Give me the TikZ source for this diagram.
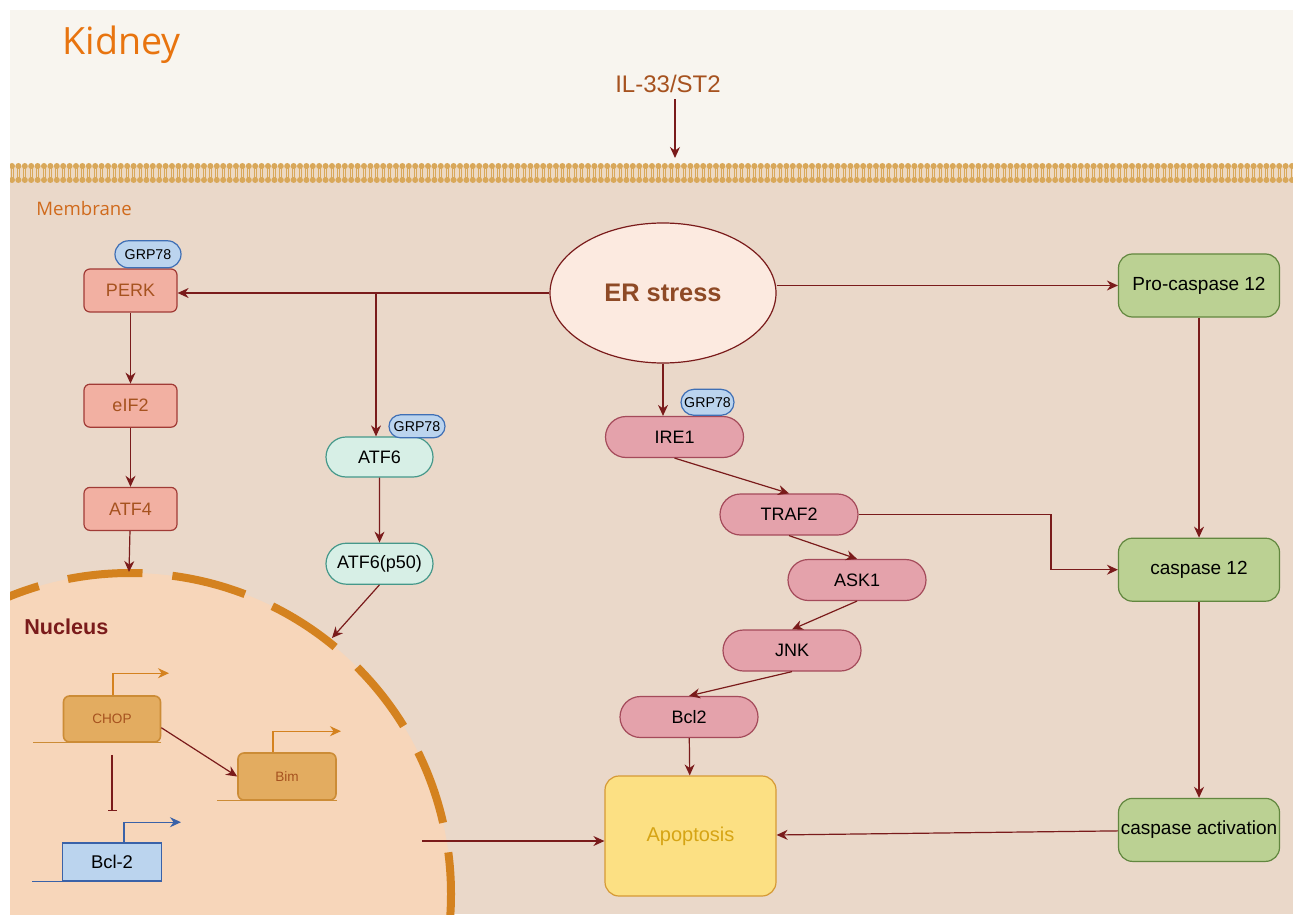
\documentclass[tikz,border=0pt]{standalone}
\usepackage{fontspec}
\setmainfont{Liberation Sans}
\newfontfamily\segoe{Open Sans}
\usetikzlibrary{arrows.meta,positioning,calc,shapes.geometric,shapes.misc}
\definecolor{arrowred}{HTML}{7A1B1B}
\definecolor{creambg}{HTML}{F8F5EF}
\definecolor{tanbg}{HTML}{EAD8C9}
\definecolor{lipid}{HTML}{D9A85A}
\definecolor{memband}{HTML}{EDD9C2}
\definecolor{kidneyor}{HTML}{E8740F}
\definecolor{memor}{HTML}{D06A1C}
\definecolor{brownt}{HTML}{A6521F}
\definecolor{ertext}{HTML}{8E4A26}
\definecolor{erfill}{HTML}{FCEAE0}
\definecolor{nucfill}{HTML}{F7D6BA}
\definecolor{nucline}{HTML}{D4821F}
\definecolor{perkfill}{HTML}{F2B0A2}
\definecolor{perkline}{HTML}{A13B36}
\definecolor{grpfill}{HTML}{BBD4EE}
\definecolor{grpline}{HTML}{3F6FB5}
\definecolor{atffill}{HTML}{D7EFE6}
\definecolor{atfline}{HTML}{45988A}
\definecolor{irefill}{HTML}{E4A2AB}
\definecolor{ireline}{HTML}{A44A5A}
\definecolor{casfill}{HTML}{BBD193}
\definecolor{casline}{HTML}{62873F}
\definecolor{apofill}{HTML}{FCE083}
\definecolor{apoline}{HTML}{D69A35}
\definecolor{apotext}{HTML}{D6A414}
\definecolor{genefill}{HTML}{E3AC60}
\definecolor{geneline}{HTML}{CC8C36}
\definecolor{bclline}{HTML}{3A62A8}

\begin{document}
\begin{tikzpicture}[x=0.5pt,y=-0.5pt,>={Stealth[length=5.5pt,width=5pt]},
  every node/.style={inner sep=0pt},
  link/.style={->,draw=arrowred,line width=0.6pt},
  perkbox/.style={draw=perkline,fill=perkfill,rounded corners=3pt,line width=0.6pt,
    minimum width=46.5pt,minimum height=21.5pt,text=brownt,font=\fontsize{9}{10}\selectfont},
  grp/.style={rounded rectangle,draw=grpline,fill=grpfill,line width=0.6pt,
    minimum width=28pt,minimum height=12.5pt,font=\fontsize{7.1}{8}\selectfont},
  atf/.style={rounded rectangle,draw=atfline,fill=atffill,line width=0.6pt,
    minimum width=53.5pt,minimum height=20pt,font=\fontsize{9}{10}\selectfont},
  ire/.style={rounded rectangle,draw=ireline,fill=irefill,line width=0.6pt,
    minimum width=69pt,minimum height=20.5pt,font=\fontsize{9}{10}\selectfont},
  cas/.style={rounded corners=7pt,draw=casline,fill=casfill,line width=0.6pt,
    minimum width=80.5pt,minimum height=31.5pt,font=\fontsize{9.5}{11}\selectfont},
  gene/.style={draw=geneline,fill=genefill,rounded corners=3pt,line width=0.8pt,
    minimum width=48.5pt,minimum height=23pt,text=brownt,font=\fontsize{6.8}{8}\selectfont},
  genebase/.style={draw=geneline,line width=0.6pt},
  tss/.style={->,draw=nucline,line width=0.6pt}]
\useasboundingbox (0,0) rectangle (1293,914);
\fill[white] (0,0) rectangle (1293,914);
\begin{scope}
\clip (10,10) rectangle (1293,914);
% cell background and nucleus
\fill[creambg] (10,10) rectangle (1293,170);
\fill[tanbg] (10,170) rectangle (1293,914);
\fill[nucfill] (130,894) circle[radius=160.5pt];
\draw[nucline,line width=4pt,dash pattern=on 37.5pt off 15pt,dash phase=16.6pt]
  (130,894) circle[radius=160.5pt];
% membrane
\fill[memband] (10,166) rectangle (1293,180);
\foreach \i in {0,...,200} {
  \draw[lipid,line width=0.35pt] (11+6.4*\i,168) -- (11+6.4*\i,178)
    (13+6.4*\i,168) -- (13+6.4*\i,178);
  \fill[lipid] (12+6.4*\i,166) circle[radius=1.5pt] (12+6.4*\i,180) circle[radius=1.5pt];
}
\end{scope}

% labels
\node[anchor=west,text=kidneyor,font=\segoe\fontsize{18.8}{20}\selectfont] (kid) at (62,45) {Kidney};
\node[text=brownt,inner ysep=3pt,font=\fontsize{12}{14}\selectfont] (il) at (668,84) {IL-33/ST2};
\node[anchor=west,text=memor,font=\segoe\fontsize{9.3}{11}\selectfont] (memb) at (36,209) {Membrane};
\node[anchor=west,text=arrowred,font=\bfseries\fontsize{10.8}{12}\selectfont] (nuc) at (24,627) {Nucleus};

% ER stress and the three branches
\node[ellipse,draw=arrowred,fill=erfill,line width=0.6pt,minimum width=113pt,minimum height=70pt,
  text=ertext,font=\bfseries\fontsize{12.7}{14}\selectfont] (er) at (663,293) {ER stress};

\node[perkbox] (perk) at (130.5,290.5) {PERK};
\node[grp,above=0pt of perk.north,xshift=8.75pt,minimum width=33pt,minimum height=13.5pt] (grpA) {GRP78};
\node[perkbox,below=35.5pt of perk] (eif) {eIF2};
\node[perkbox,below=29.5pt of eif] (atf4) {ATF4};

\node[atf] (atf6) at (379.5,457) {ATF6};
\node[grp,above=-1pt of atf6.north,xshift=18.75pt,minimum height=11.5pt] (grpB) {GRP78};
\node[atf,below=32.5pt of atf6,minimum height=20.5pt] (p50) {ATF6(p50)};

\node[ire] (ire) at (674.5,437) {IRE1};
\node[grp,above=0pt of ire.north,xshift=16.5pt,minimum width=26.5pt,minimum height=13pt] (grpC) {GRP78};
\node[ire] (traf) at (789,514.5) {TRAF2};
\node[ire] (ask) at (857,580) {ASK1};
\node[ire] (jnk) at (792,650.5) {JNK};
\node[ire] (bcl) at (689,717) {Bcl2};

\node[cas] (pro) at (1199,285.5) {Pro-caspase 12};
\node[cas,below=110pt of pro] (c12) {caspase 12};
\node[cas,below=98pt of c12] (cact) {caspase activation};

\node[rounded corners=7pt,draw=apoline,fill=apofill,line width=0.6pt,minimum width=85.5pt,
  minimum height=60pt,text=apotext,font=\fontsize{10}{12}\selectfont] (apop) at (690.5,836) {Apoptosis};

% genes in the nucleus
\node[gene] (chop) at (112,719) {CHOP};
\node[gene,minimum width=49pt,minimum height=23.5pt] (bim) at (287,776.5) {Bim};
\node[draw=bclline,fill=grpfill,line width=0.8pt,minimum width=49.5pt,minimum height=19pt,
  font=\fontsize{9.2}{11}\selectfont] (bcl2) at (112,862) {Bcl-2};

% connectors
\coordinate (mem) at (675,158);
\draw[link] (il.south -| mem) -- (mem);
\draw[link] (er.west) -- (er.west -| perk.east);
\coordinate (br) at (376,293);
\draw[link] (br) -- (br |- atf6.north);
\draw[link] (perk) -- (eif);
\draw[link] (eif) -- (atf4);
\coordinate (nB) at (129,572);
\draw[link] (atf4) -- (nB);
\draw[link] (atf6) -- (p50);
\coordinate (nA) at (332,638);
\draw[link] (p50.south) -- (nA);

\draw[link] (er.south) -- (er.south |- ire.north);
\draw[link] (ire.south) -- (traf.north);
\draw[link] (traf.south) -- (ask.north);
\draw[link] (ask.south) -- (jnk.north);
\draw[link] (jnk.south) -- (bcl.north);
\draw[link] (bcl) -- (apop);
\coordinate (tb) at (1051,514.5);
\draw[link] (traf.east) -- (tb) |- (c12.west);

\draw[link] (er.east |- pro.west) -- (pro.west);
\draw[link] (pro) -- (c12);
\draw[link] (c12) -- (cact);
\draw[link] (cact) -- (apop);
\coordinate (nC) at (422,841);
\draw[link] (nC) -- (nC -| apop.west);

\draw[genebase] (chop.south east) -- ++(-128,0);
\draw[tss] (chop.north) ++(1,0) -- ++(0,-22) -- ++(56,0);
\draw[link] (chop.-10) -- (bim.west);
\draw[link,-{Bar[width=4.5pt]}] ([yshift=-6pt]chop.south) -- ([yshift=15.5pt]bcl2.north);
\draw[genebase] (bim.south east) -- ++(-120,0);
\draw[tss] (bim.north) ++(-14,0) -- ++(0,-21) -- ++(68,0);
\draw[draw=bclline,line width=0.6pt] (bcl2.south east) ++(-4,0) -- ++(-126,0);
\draw[->,draw=bclline,line width=0.6pt] (bcl2.north) ++(12,0) -- ++(0,-20) -- ++(57,0);
\end{tikzpicture}
\end{document}
